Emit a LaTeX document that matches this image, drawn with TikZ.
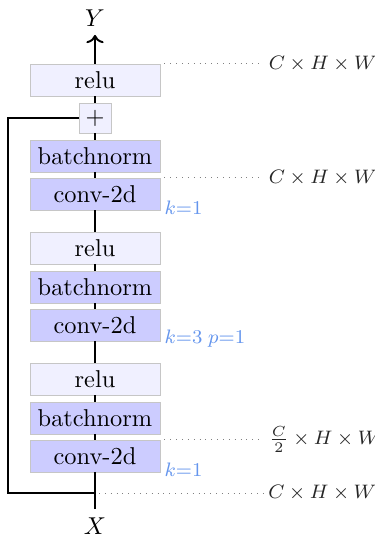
\documentclass[tikz,border=0pt]{standalone}
\usetikzlibrary{arrows.meta}
\definecolor{klabel}{RGB}{100,149,237}
\tikzset{
  layer/.style={draw=gray!45, minimum width=130*0.41pt, minimum height=32*0.41pt, inner sep=0pt},
  light/.style={layer, fill=blue!6},
  dark/.style={layer, fill=blue!20},
  dims/.style={dotted, gray},
  dimlab/.style={font=\footnotesize, text=black!85, anchor=west, inner sep=2pt},
  klab/.style={font=\footnotesize, text=klabel, anchor=west, inner sep=1.5pt}
}
\begin{document}
\begin{tikzpicture}[x=0.41pt,y=0.41pt,>=To]
            \def\bx{95}
            \useasboundingbox (0,0) rectangle (374,-537);
            % layers, bottom to top
            \foreach \i in {1,2,3}
            {
              \node[dark] (conv\i) at (\bx,{-456+131*(\i-1)}) {conv-2d};
              \node[dark] (bn\i) at (\bx,{-418+131*(\i-1)}) {batchnorm};
            }
            \node[light] (relu1) at (\bx,-379) {relu};
            \node[light] (relu2) at (\bx,-248) {relu};
            \node[draw=gray!45, fill=blue!6, minimum width=32*0.41pt, minimum height=30*0.41pt, inner sep=0pt] (plus) at (\bx,-118) {$+$};
            \node[light] (relu3) at (\bx,-80) {relu};
            \node (Y) at (\bx,-18) {$Y$};
            \node (X) at (\bx,-526) {$X$};
            \coordinate (split) at (\bx,-493);
            \coordinate (left) at (8,-493);
            % main path
            \draw[thick] (X) -- (split) -- (conv1) -- (bn1) -- (relu1) -- (conv2) -- (bn2) -- (relu2)
              -- (conv3) -- (bn3) -- (plus) -- (relu3);
            \draw[thick,->] (relu3) -- (Y);
            % skip connection
            \draw[thick] (split) -- (left) |- (plus.west);
            % shapes
            \draw[dims] (relu3.north east) ++(4,0) -- ++(99,0) node[dimlab] (d3) {$C\times H\times W$};
            \draw[dims] (conv3.north east) ++(4,0) -- ++(99,0) node[dimlab] (d2) {$C\times H\times W$};
            \draw[dims] (conv1.north east) ++(4,0) -- ++(99,0) node[dimlab] (d1) {$\frac{C}{2}\times H\times W$};
            \draw[dims] (split) ++(4,0) -- ++(164,0) node[dimlab] (d0) {$C\times H\times W$};
            % kernel labels
            \node[klab] (k3) at ([yshift=1pt]conv3.south east) {$k{=}1$};
            \node[klab] (k2) at ([yshift=1pt]conv2.south east) {$k{=}3\;p{=}1$};
            \node[klab] (k1) at ([yshift=1pt]conv1.south east) {$k{=}1$};
        \end{tikzpicture}
\end{document}
